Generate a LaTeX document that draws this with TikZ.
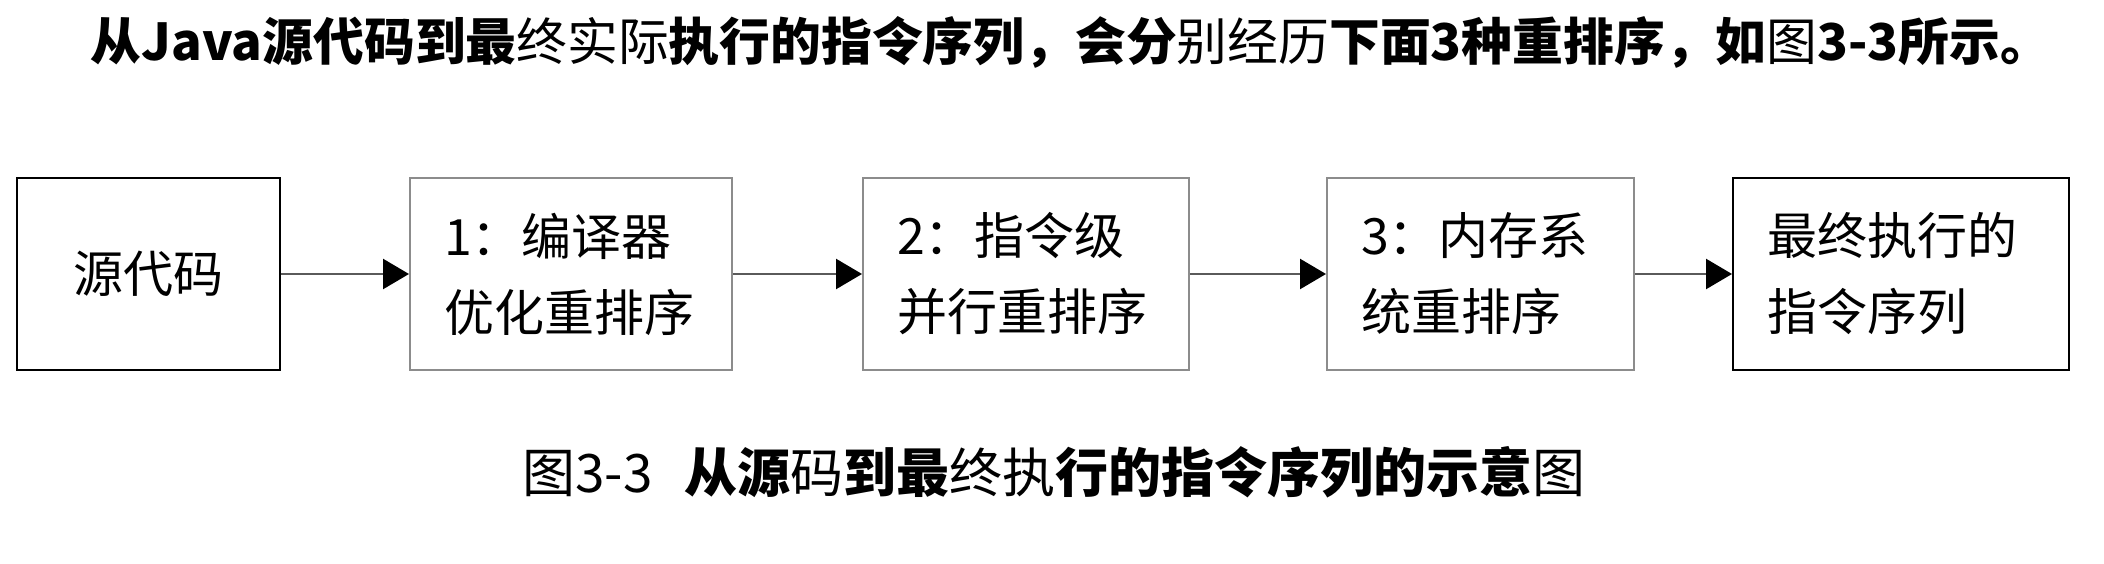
\documentclass[tikz,border=0pt]{standalone}
\usepackage{fontspec}
\setmainfont{Noto Sans CJK SC}
\usetikzlibrary{arrows.meta}
\definecolor{boxgray}{HTML}{8C8C8C}
\definecolor{linegray}{HTML}{5A5A5A}
\tikzset{
  box/.style={draw=black, line width=2pt, inner xsep=34pt, inner ysep=0pt,
    minimum height=191pt, anchor=west, align=left,
    font=\fontsize{50pt}{76pt}\selectfont},
  lightbox/.style={box, draw=boxgray},
  flow/.style={draw=linegray, line width=2.5pt,
    -{Triangle[length=26pt,width=30pt,color=black]}},
  titletext/.style={font=\fontsize{50.8pt}{60pt}\selectfont, inner sep=0pt},
  captiontext/.style={font=\fontsize{53pt}{60pt}\selectfont, inner sep=0pt}
}
\begin{document}
\begin{tikzpicture}[x=1pt,y=-1pt]
\useasboundingbox (0,0) rectangle (2104,564);
\node[titletext] (title) at (1071,42) {\textbf{从Java源代码到最}终实际\textbf{执行的指令序列，会分}别经历\textbf{下面3种重排序，如}图\textbf{3-3所示。}};
\node[box, text width=195pt, align=center] (src) at (16,274) {源代码};
\node[lightbox, text width=254pt] (s1) at (409,274) {1：编译器\\优化重排序};
\node[lightbox, text width=258pt] (s2) at (862,274) {2：指令级\\并行重排序};
\node[lightbox, text width=239pt] (s3) at (1326,274) {3：内存系\\统重排序};
\node[box, text width=268pt] (dst) at (1732,274) {最终执行的\\指令序列};
\draw[flow] (src) -- (s1);
\draw[flow] (s1) -- (s2);
\draw[flow] (s2) -- (s3);
\draw[flow] (s3) -- (dst);
\node[captiontext] (cap) at (1054,472) {图3-3\hspace{0.6em}\textbf{从源}码\textbf{到最}终执\textbf{行的指令序列的示意}图};
\end{tikzpicture}
\end{document}
